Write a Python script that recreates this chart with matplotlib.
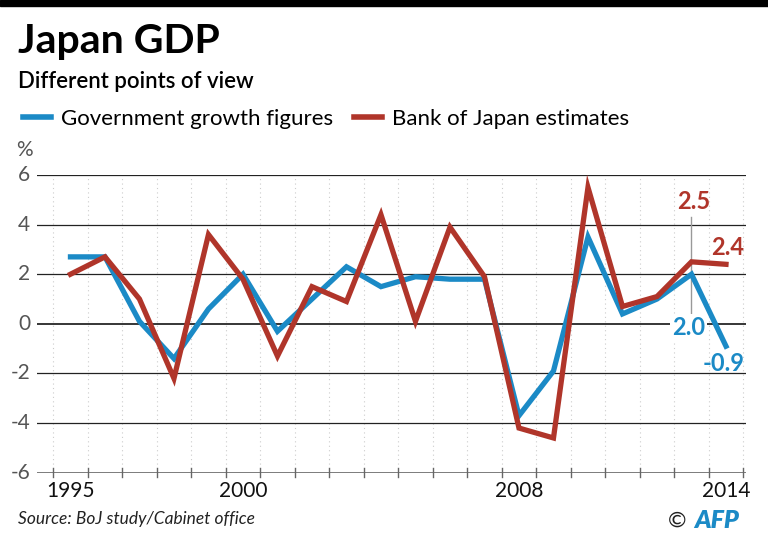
import matplotlib
matplotlib.use("Agg")
import matplotlib.pyplot as plt
from matplotlib.lines import Line2D
import numpy as np

years = list(range(1995, 2015))
government = [2.7, 2.7, 0.1, -1.4, 0.6, 2.0, -0.3, 1.0, 2.3, 1.5,
              1.9, 1.8, 1.8, -3.7, -1.9, 3.5, 0.4, 1.0, 2.0, -0.9]
boj = [2.0, 2.7, 1.0, -2.2, 3.6, 1.8, -1.3, 1.5, 0.9, 4.4,
       0.1, 3.9, 1.9, -4.2, -4.6, 5.5, 0.7, 1.1, 2.5, 2.4]
xtick_labels = ["1995", "2000", "2008", "2014"]
ytick_values = [-6, -4, -2, 0, 2, 4, 6]

BLUE = "#1b8ac6"
RED = "#b0352a"
FONT = "Lato"

plt.rcParams['font.family'] = [FONT, 'DejaVu Sans']

W, H = 768, 539
fig = plt.figure(figsize=(W / 100, H / 100), dpi=100)

# top black band
fig.patches.append(plt.Rectangle((0, 1 - 6 / H), 1, 6 / H, transform=fig.transFigure,
                                 color="black", zorder=0))

left_px, right_px = 37, 746
top_px, bot_px = 175, 472.7
ax = fig.add_axes([left_px / W, 1 - bot_px / H, (right_px - left_px) / W, (bot_px - top_px) / H])
ax.set_xlim(1994.03, 2014.58)
ax.set_ylim(-6, 6)
for s in ax.spines.values():
    s.set_visible(False)

# horizontal gridlines
for v in ytick_values:
    if v == -6:
        ax.axhline(v, color="#666666", lw=1.2, zorder=1)
    elif v == 0:
        ax.axhline(v, color="black", lw=1.1, zorder=1)
    else:
        ax.axhline(v, color="#222222", lw=0.9, zorder=1)

# vertical dotted lines at year boundaries and tick marks
bounds = np.arange(years[0] - 0.5, years[-1] + 1.0, 1.0)
for b in bounds:
    ax.plot([b, b], [-6, 6], color="#cccccc", lw=0.8, ls=(0, (1, 3)), zorder=0.5)
    ax.plot([b, b], [-6.17, -5.83], color="#666666", lw=1.0, zorder=1, clip_on=False)

ax.plot(years, government, color=BLUE, lw=3.8, solid_joinstyle="miter", zorder=3)
ax.plot(years, boj, color=RED, lw=3.8, solid_joinstyle="miter", zorder=4)

ax.set_xticks([])
ax.set_yticks([])
for v in ytick_values:
    ax.text(1994.03 - 0.2, v, str(v), ha="right", va="center", fontsize=15,
            color="#555555", clip_on=False)
for lab in xtick_labels:
    ax.text(int(lab), -6.75, lab, ha="center", va="center", fontsize=15,
            color="#111111", clip_on=False)

# annotations
ax.plot([2013, 2013], [0.45, 4.3], color="#999999", lw=1.0, zorder=2)
ax.text(2013.06, 4.93, "2.5", color=RED, fontsize=17, fontweight="bold", ha="center", va="center")
ax.text(2014.04, 3.07, "2.4", color=RED, fontsize=17, fontweight="bold", ha="center", va="center")
ax.text(2012.91, -0.16, "2.0", color=BLUE, fontsize=17, fontweight="bold", ha="center", va="center",
        bbox=dict(facecolor="white", edgecolor="none", pad=1.5), zorder=2.5)
ax.text(2013.93, -1.58, "-0.9", color=BLUE, fontsize=17, fontweight="bold", ha="center", va="center")

# titles
fig.text(18 / W, 1 - 42 / H, "Japan GDP", fontsize=29.5, fontweight="bold", ha="left", va="center")
fig.text(18 / W, 1 - 81 / H, "Different points of view", fontsize=16, fontweight="semibold",
         ha="left", va="center")
fig.text(16 / W, 1 - 150 / H, "%", fontsize=15, color="#555555",
         ha="left", va="center")

handles = [Line2D([], [], color=BLUE, lw=4), Line2D([], [], color=RED, lw=4)]
fig.legend(handles, ["Government growth figures", "Bank of Japan estimates"],
           loc="center left", bbox_to_anchor=(3 / W, 1 - 119 / H), ncol=2, frameon=False,
           fontsize=16, handlelength=1.25, handletextpad=0.45, columnspacing=0.95)

fig.text(18 / W, 1 - 519 / H, "Source: BoJ study/Cabinet office", fontsize=12.5, style="italic",
         ha="left", va="center", color="#222222")
fig.text(668 / W, 1 - 521 / H, "©", fontsize=16, ha="left", va="center", color="#222222")
fig.text(694 / W, 1 - 520 / H, "AFP", fontsize=18, fontweight="heavy", style="italic",
         ha="left", va="center", color=BLUE)

fig.savefig("out.png", dpi=100)
